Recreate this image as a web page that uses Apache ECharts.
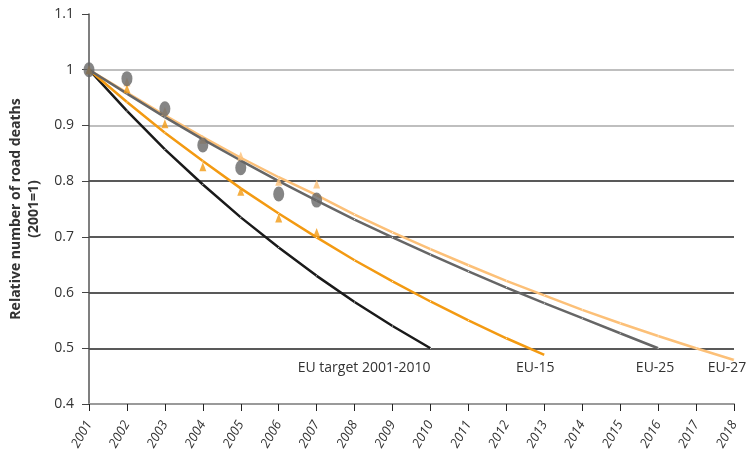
<!DOCTYPE html>
<html>
<head>
<meta charset="utf-8">
<script src="https://cdn.jsdelivr.net/npm/echarts@6/dist/echarts.min.js"></script>
<style>html,body{margin:0;padding:0;background:#fff;}#c{width:748px;height:457px;}</style>
</head>
<body>
<div id="c"></div>
<script>
// Trend lines
const targetYears = [2001,2002,2003,2004,2005,2006,2007,2008,2009,2010];
const targetVals  = [1,0.926,0.857,0.794,0.735,0.681,0.630,0.583,0.540,0.5];
const eu15Years = [2001,2002,2003,2004,2005,2006,2007,2008,2009,2010,2011,2012,2013];
const eu15Vals  = [1,0.942,0.887,0.836,0.787,0.742,0.699,0.658,0.620,0.584,0.550,0.518,0.488];
const eu25Years = [2001,2002,2003,2004,2005,2006,2007,2008,2009,2010,2011,2012,2013,2014,2015,2016];
const eu25Vals  = [1,0.957,0.915,0.875,0.837,0.800,0.765,0.731,0.699,0.668,0.638,0.609,0.581,0.554,0.527,0.500];
const eu27Years = [2001,2002,2003,2004,2005,2006,2007,2008,2009,2010,2011,2012,2013,2014,2015,2016,2017,2018];
const eu27Vals  = [1,0.959,0.918,0.879,0.842,0.807,0.775,0.740,0.708,0.678,0.649,0.621,0.595,0.569,0.545,0.522,0.500,0.479];
// Observed values
const obsYears = [2001,2002,2003,2004,2005,2006,2007];
const eu15Obs = [1,0.966,0.903,0.826,0.782,0.734,0.708];
const eu25Obs = [1,0.984,0.930,0.865,0.824,0.777,0.766];
const eu27Obs = [1,0.978,0.925,0.875,0.845,0.800,0.795];
// Axis ticks
const yTicks = [0.4,0.5,0.6,0.7,0.8,0.9,1,1.1];
const xLabels = [2001,2002,2003,2004,2005,2006,2007,2008,2009,2010,2011,2012,2013,2014,2015,2016,2017,2018];
const seriesNames = ['EU target 2001-2010','EU-15','EU-25','EU-27'];

const pair = (xs, ys) => xs.map((x,i)=>[x, ys[i]]);
const font = '"Open Sans", "Liberation Sans", Arial, sans-serif';

function endLabeled(xs, ys, name, align, offset){
  const d = pair(xs, ys).map(p => ({value:p}));
  d[d.length-1].label = {show:true, formatter:name, position:'bottom', align:align,
    offset:offset, color:'#333', fontSize:14, fontFamily:font};
  return d;
}

const chart = echarts.init(document.getElementById('c'));
chart.setOption({
  animation:false,
  grid:{left:89, right:14, top:14, bottom:53, containLabel:false, outerBoundsMode:'none'},
  xAxis:{
    type:'value', min:2001, max:2018, interval:1,
    axisLine:{show:true, lineStyle:{color:'#9a9a9a', width:2}},
    axisTick:{show:true, length:7, lineStyle:{color:'#222'}},
    splitLine:{show:false},
    axisLabel:{rotate:60, fontStyle:'italic', fontSize:13, color:'#333', fontFamily:font, margin:18,
      formatter:v => xLabels.includes(v) ? String(v) : ''}
  },
  yAxis:{
    type:'value', min:0.4, max:1.1, interval:0.1,
    name:'Relative number of road deaths\n(2001=1)',
    nameLocation:'middle', nameRotate:90, nameGap:44,
    nameTextStyle:{fontWeight:'bold', fontSize:14, color:'#333', fontFamily:font, lineHeight:18},
    axisLine:{show:true, lineStyle:{color:'#555', width:1.5}},
    axisTick:{show:true, length:7, lineStyle:{color:'#444'}},
    axisLabel:{fontSize:14, color:'#333', fontFamily:font, margin:15,
      formatter:v => { const t = yTicks.find(k => Math.abs(k-v)<1e-6); return t===undefined?'':String(t); }},
    splitLine:{show:true, lineStyle:{width:1.5, color:['#9a9a9a','#222','#222','#222','#222','#aaaaaa','#aaaaaa','rgba(0,0,0,0)']}}
  },
  series:[
    {name:seriesNames[0], type:'line', data:endLabeled(targetYears,targetVals,seriesNames[0],'right',[0,6]),
      showSymbol:true, symbolSize:1, itemStyle:{color:'rgba(0,0,0,0)'}, lineStyle:{color:'#1a1a1a', width:2.5}, z:3},
    {name:seriesNames[1], type:'line', data:endLabeled(eu15Years,eu15Vals,seriesNames[1],'center',[-9,0]),
      showSymbol:true, symbolSize:1, itemStyle:{color:'rgba(0,0,0,0)'}, lineStyle:{color:'#f39a12', width:2.5}, z:3},
    {name:seriesNames[2], type:'line', data:endLabeled(eu25Years,eu25Vals,seriesNames[2],'center',[-3,6]),
      showSymbol:true, symbolSize:1, itemStyle:{color:'rgba(0,0,0,0)'}, lineStyle:{color:'#666666', width:2.5}, z:3},
    {name:seriesNames[3], type:'line', data:endLabeled(eu27Years,eu27Vals,seriesNames[3],'center',[-7,-5]),
      showSymbol:true, symbolSize:1, itemStyle:{color:'rgba(0,0,0,0)'}, lineStyle:{color:'#fcc078', width:2.5}, z:2},
    {type:'scatter', data:pair(obsYears,eu27Obs), symbol:'triangle', symbolSize:[7,9], itemStyle:{color:'#fcc078'}, z:4},
    {type:'scatter', data:pair(obsYears,eu15Obs), symbol:'triangle', symbolSize:[7,9], itemStyle:{color:'#f39a12'}, z:4},
    {type:'scatter', data:pair(obsYears,eu25Obs), symbol:'circle', symbolSize:[11,15], itemStyle:{color:'#666666'}, z:5}
  ]
});
</script>
</body>
</html>
